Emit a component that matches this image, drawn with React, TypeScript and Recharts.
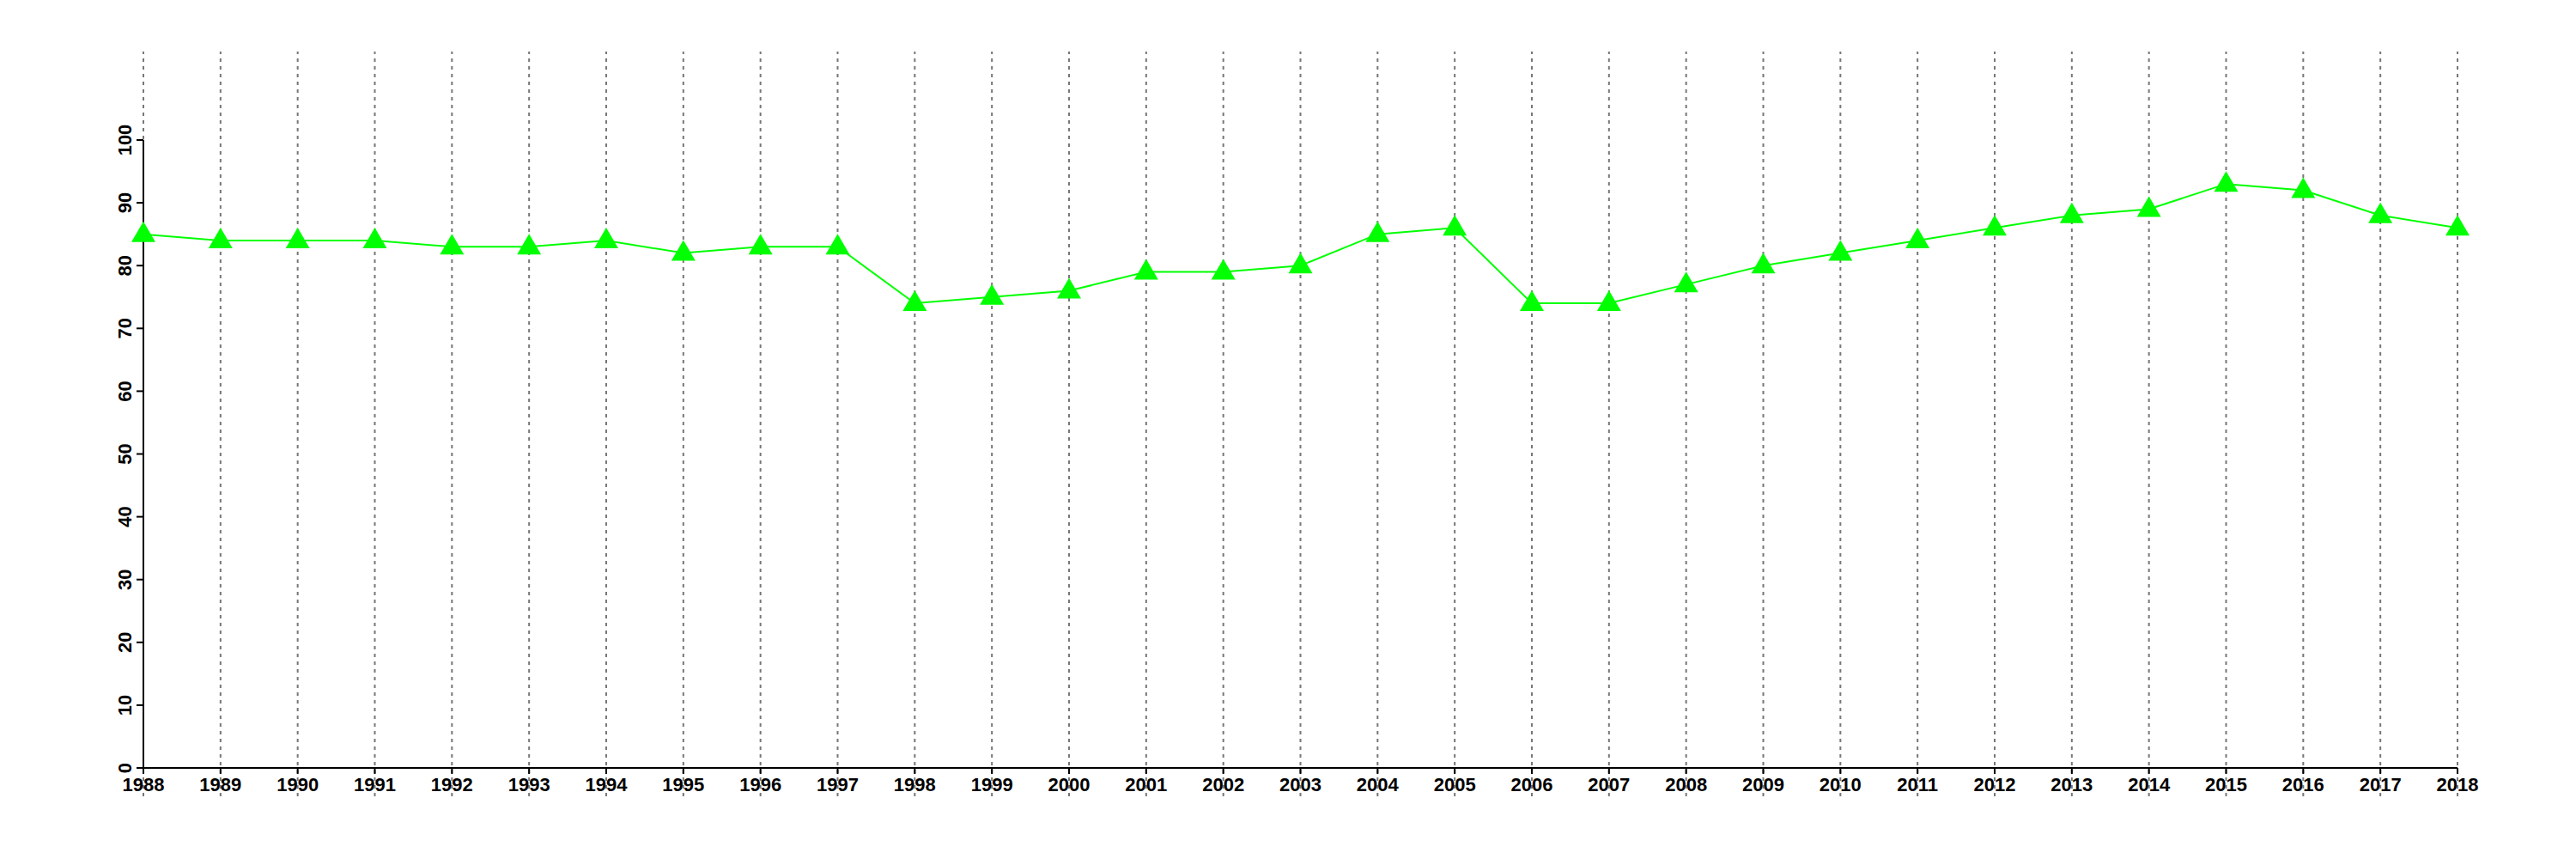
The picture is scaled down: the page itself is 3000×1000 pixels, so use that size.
import React from "react";
import { LineChart, Line, XAxis, YAxis, ReferenceLine } from "recharts";

const years = [
  1988, 1989, 1990, 1991, 1992, 1993, 1994, 1995, 1996, 1997, 1998, 1999, 2000, 2001, 2002, 2003,
  2004, 2005, 2006, 2007, 2008, 2009, 2010, 2011, 2012, 2013, 2014, 2015, 2016, 2017, 2018,
];
const values = [
  85, 84, 84, 84, 83, 83, 84, 82, 83, 83, 74, 75, 76, 79, 79, 80, 85, 86, 74, 74, 77, 80, 82, 84,
  86, 88, 89, 93, 92, 88, 86,
];
const yTicks = [0, 10, 20, 30, 40, 50, 60, 70, 80, 90, 100];

// grid runs a bit beyond the axes, like the reference
const gridBottom = -4.5;
const gridTop = 114.1;

const data = years.map((year, i) => ({ year, value: values[i] }));

const FONT = "'Liberation Sans', Arial, Helvetica, sans-serif";

function Triangle(props: any) {
  const { cx, cy } = props;
  if (cx == null || cy == null) return null;
  return (
    <path
      d={`M${cx},${cy - 15} L${cx + 14},${cy + 9} L${cx - 14},${cy + 9} Z`}
      fill="#00ff00"
      stroke="none"
    />
  );
}

function YTick(props: any) {
  const { x, y, payload } = props;
  return (
    <text
      x={x}
      y={y}
      transform={`rotate(-90, ${x}, ${y})`}
      textAnchor="middle"
      fontFamily={FONT}
      fontWeight="bold"
      fontSize={22}
      fill="#000"
    >
      {payload.value}
    </text>
  );
}

export default function App() {
  return (
    <div style={{ position: "fixed", left: 0, top: 0, background: "#fff" }}>
      <LineChart
        width={3000}
        height={1000}
        data={data}
        margin={{ top: 163, right: 138, left: 107, bottom: 46 }}
      >
        <XAxis
          dataKey="year"
          type="number"
          domain={[1988, 2018]}
          ticks={years}
          interval={0}
          height={60}
          tickSize={7}
          tickMargin={4}
          stroke="#000"
          axisLine={{ stroke: "#000", strokeWidth: 2 }}
          tickLine={{ stroke: "#000", strokeWidth: 2 }}
          tick={{ fill: "#000", fontSize: 22, fontWeight: "bold", fontFamily: FONT }}
        />
        <YAxis
          type="number"
          domain={[0, 100]}
          ticks={yTicks}
          interval={0}
          width={60}
          tickSize={8}
          tickMargin={6}
          axisLine={{ stroke: "#000", strokeWidth: 2 }}
          tickLine={{ stroke: "#000", strokeWidth: 2 }}
          tick={<YTick />}
        />
        {years.map((yr) => (
          <ReferenceLine
            key={yr}
            segment={[
              { x: yr, y: gridBottom },
              { x: yr, y: gridTop },
            ]}
            ifOverflow="visible"
            stroke="#777"
            strokeWidth={2}
            strokeDasharray="4 5"
          />
        ))}
        <Line
          dataKey="value"
          stroke="#00ff00"
          strokeWidth={2}
          dot={<Triangle />}
          activeDot={false}
          isAnimationActive={false}
        />
      </LineChart>
    </div>
  );
}
